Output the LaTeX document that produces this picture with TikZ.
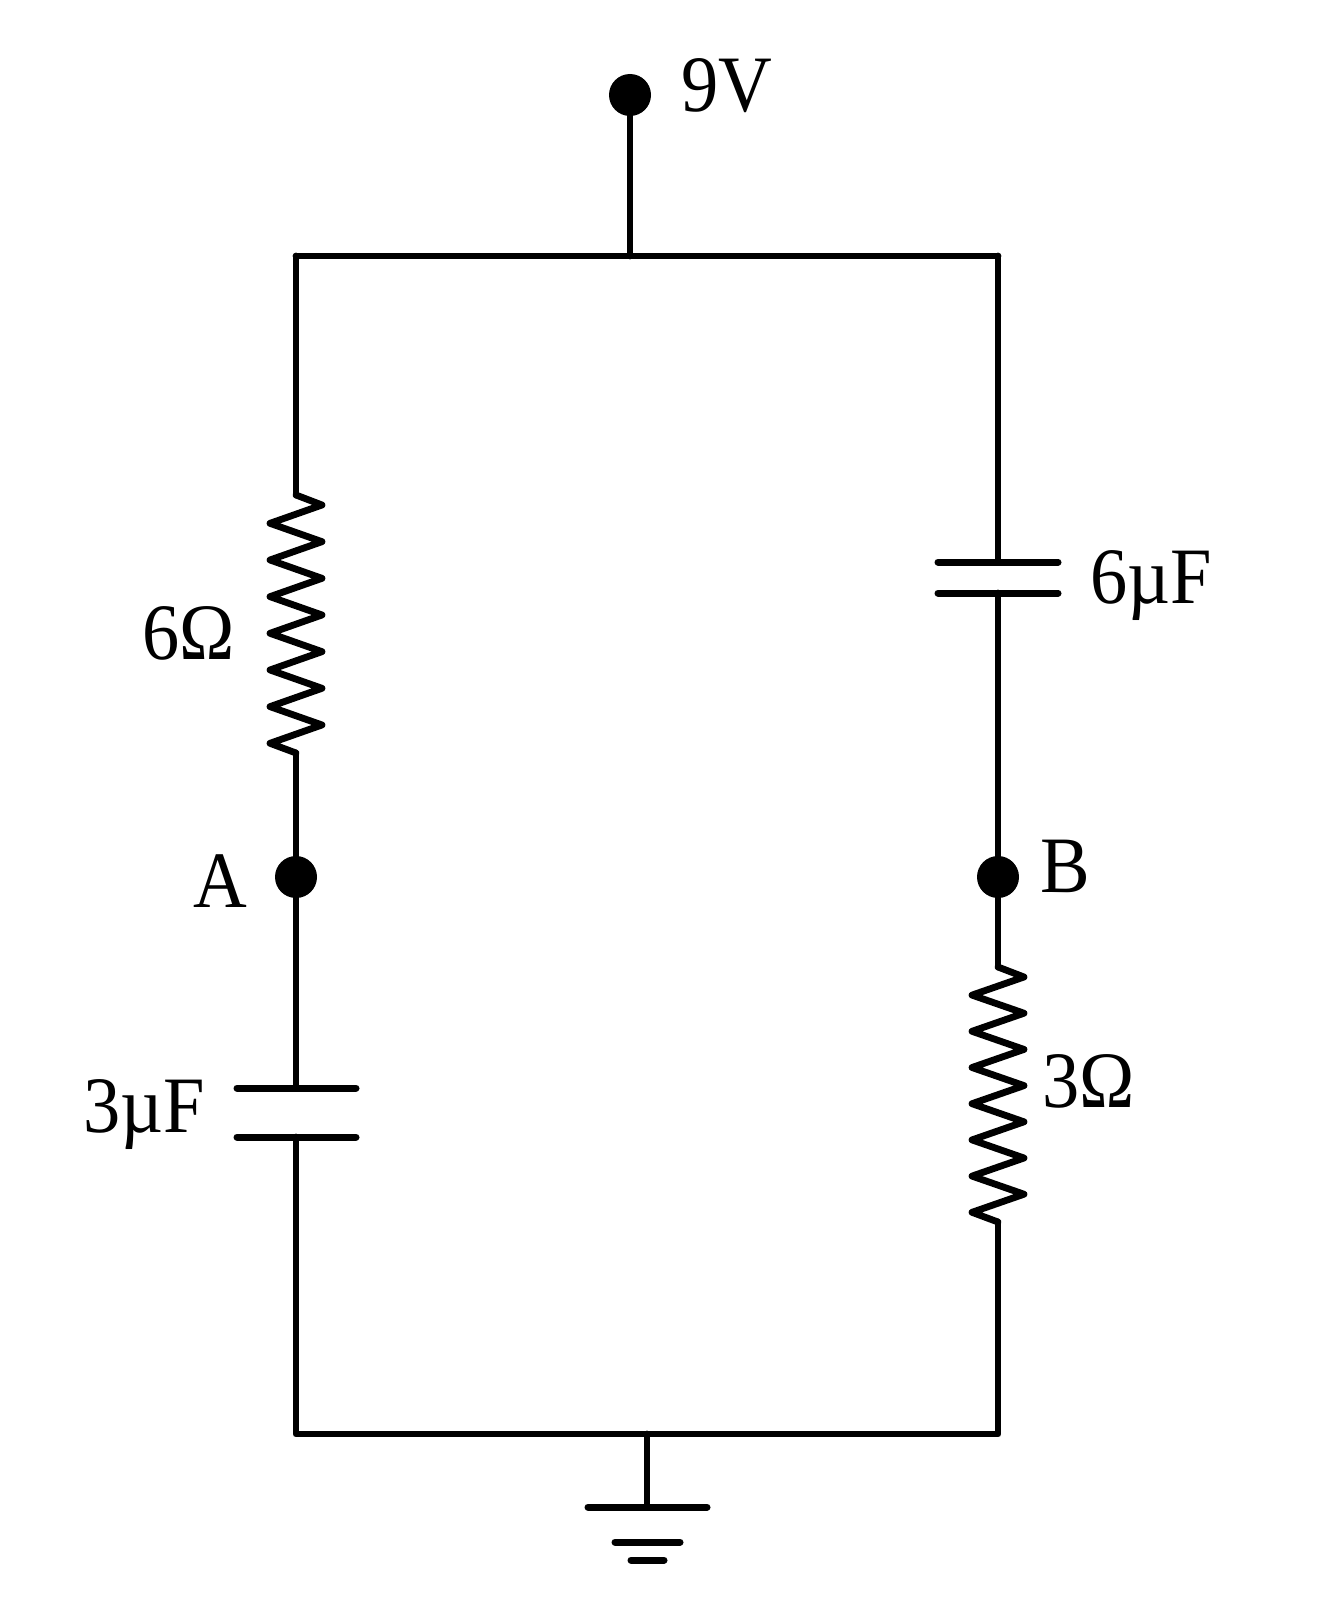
\documentclass[tikz,border=0pt]{standalone}
\usepackage{fontspec}
\setmainfont{Liberation Serif}
\usepackage{graphicx}
\begin{document}
\begin{tikzpicture}[x=0.5pt,y=-0.5pt,
  wire/.style={line width=3.4pt,line cap=round,line join=round},
  plate/.style={line width=3.5pt,line cap=round},
  dotnode/.style={circle,fill=black,inner sep=0pt,minimum size=21pt},
  lbl/.style={inner sep=0pt,font=\fontsize{40pt}{48pt}\selectfont}]
\useasboundingbox (0,0) rectangle (1324,1600);
% corners and junctions
\coordinate (tl) at (296,256);
\coordinate (tr) at (998,256);
\coordinate (bl) at (296,1434);
\coordinate (br) at (998,1434);
\coordinate (tj) at (630,256);
\coordinate (gj) at (647,1434);
\coordinate (gnd) at (647,1507);
% terminals
\node[dotnode] (v9) at (630,95) {};
\node[dotnode] (A) at (296,877) {};
\node[dotnode] (B) at (998,877) {};
% resistor ends
\coordinate (r6t) at (296,495);
\coordinate (r6b) at (296,753);
\coordinate (r3t) at (998,967);
\coordinate (r3b) at (998,1222);
% capacitor plates
\coordinate (c6t) at (998,562);
\coordinate (c6b) at (998,593);
\coordinate (c3t) at (296,1088);
\coordinate (c3b) at (296,1137);
% wires
\draw[wire] (tl) -- (tr);
\draw[wire] (tj) -- (v9.center);
\draw[wire] (tl) -- (r6t);
\draw[wire] (r6b) -- (A.center) -- (c3t);
\draw[wire] (c3b) -- (bl) -- (br) -- (r3b);
\draw[wire] (tr) -- (c6t);
\draw[wire] (c6b) -- (B.center) -- (r3t);
\draw[wire] (gj) -- (gnd);
% resistors
\draw[wire] (r6t) -- ++(26,10)
  \foreach \i in {1,...,6}{ -- ++(-52,18.33) -- ++(52,18.33)}
  -- ++(-52,18.33) -- (r6b);
\draw[wire] (r3t) -- ++(26,10)
  \foreach \i in {1,...,6}{ -- ++(-52,18.1) -- ++(52,18.1)}
  -- ++(-52,18.1) -- (r3b);
% capacitor plates
\draw[plate] ([xshift=-30pt]c6t) -- ([xshift=30pt]c6t);
\draw[plate] ([xshift=-30pt]c6b) -- ([xshift=30pt]c6b);
\draw[plate] ([xshift=-29.5pt]c3t) -- ([xshift=30pt]c3t);
\draw[plate] ([xshift=-29.5pt]c3b) -- ([xshift=30pt]c3b);
% ground
\draw[plate] ([xshift=-29.5pt]gnd) -- ([xshift=30pt]gnd);
\draw[plate] (615,1542) -- (680,1542);
\draw[plate] (631,1560) -- (664,1560);
% labels
\node[lbl,anchor=base west] (t9v) at (681,112) {\scalebox{0.93}[1]{9V}};
\node[lbl,anchor=base west] (t6uf) at (1090,603) {\scalebox{0.93}[1]{6µF}};
\node[lbl,anchor=base west] (t3uf) at (83,1132) {\scalebox{0.93}[1]{3µF}};
\node[lbl,anchor=base west] (tA) at (193,907) {\scalebox{0.93}[1]{A}};
\node[lbl,anchor=base west] (tB) at (1040,892) {\scalebox{0.93}[1]{B}};
\node[lbl,anchor=base west] (t6o) at (142,659) {\scalebox{0.93}[1]{6Ω}};
\node[lbl,anchor=base west] (t3o) at (1042,1107) {\scalebox{0.93}[1]{3Ω}};
\end{tikzpicture}
\end{document}
